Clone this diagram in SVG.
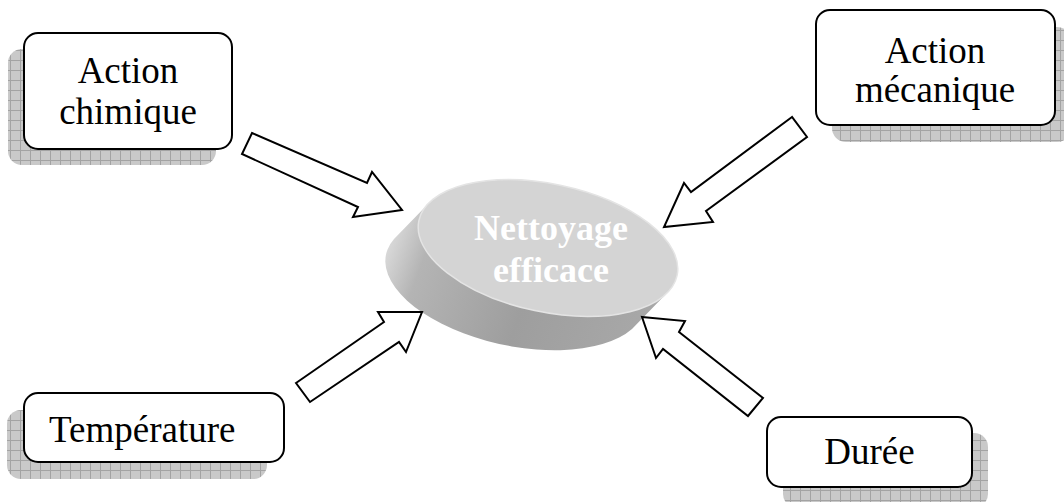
<svg xmlns="http://www.w3.org/2000/svg" width="1064" height="502" viewBox="0 0 1064 502">
<style>
.box{fill:#ffffff;stroke:#000000;stroke-width:2}
.shadow{fill:url(#hatch)}
.lbl{font-family:"Liberation Serif","Times New Roman",serif;font-size:37px;fill:#000000}
.ctr{font-family:"Liberation Serif","Times New Roman",serif;font-size:36px;font-weight:bold;fill:#ffffff;text-anchor:middle}
.arrow{fill:#ffffff;stroke:#000000;stroke-width:2;stroke-linejoin:miter}
</style>
<defs>
<pattern id="hatch" width="10" height="10" patternUnits="userSpaceOnUse">
<rect width="10" height="10" fill="#c9c9c9"/>
<path d="M0 0.5H10M0.5 0V10" stroke="#a3a3a3" stroke-width="1"/>
</pattern>
<linearGradient id="body" gradientUnits="userSpaceOnUse" x1="383" y1="250" x2="640" y2="345">
<stop offset="0" stop-color="#dcdcdc"/>
<stop offset="0.15" stop-color="#b4b4b4"/>
<stop offset="0.55" stop-color="#9e9e9e"/>
<stop offset="1" stop-color="#a8a8a8"/>
</linearGradient>
</defs>
<rect width="1064" height="502" fill="#ffffff"/>

<g id="node-centre">
<path fill="url(#body)" d="M429 203 L394 239 A132 64 12 0 0 632 329 L667 293 A132 64 12 0 0 429 203 Z"/>
<ellipse cx="548" cy="248" rx="132" ry="64" transform="rotate(12 548 248)" fill="#d4d4d4" stroke="#e4e4e4" stroke-width="1.5"/>
<text class="ctr" x="551" y="240">Nettoyage</text>
<text class="ctr" x="551" y="282">efficace</text>
</g>

<g id="node-action-chimique">
<rect class="shadow" x="8" y="49" width="208" height="116" rx="14"/>
<rect class="box" x="24" y="33" width="208" height="116" rx="14"/>
<text class="lbl" x="128" y="83" text-anchor="middle">Action</text>
<text class="lbl" x="128" y="124" text-anchor="middle">chimique</text>
</g>

<g id="node-action-mecanique">
<rect class="shadow" x="832" y="27" width="239" height="115" rx="14"/>
<rect class="box" x="816" y="10" width="239" height="115" rx="14"/>
<text class="lbl" x="935" y="63" text-anchor="middle">Action</text>
<text class="lbl" x="935" y="102" text-anchor="middle">mécanique</text>
</g>

<g id="node-temperature">
<rect class="shadow" x="7" y="410" width="260" height="69" rx="14"/>
<rect class="box" x="24" y="393" width="260" height="69" rx="14"/>
<text class="lbl" x="49" y="442">Température</text>
</g>

<g id="node-duree">
<rect class="shadow" x="783" y="433" width="205" height="75" rx="14"/>
<rect class="box" x="767" y="417" width="205" height="70" rx="14"/>
<text class="lbl" x="869.5" y="464" text-anchor="middle">Durée</text>
</g>

<g id="connectors">
<polygon class="arrow" points="252,133 367,183 372,172 402,210 353,217 358,207 242,154"/>
<polygon class="arrow" points="792,117 691,192 684,183 664,227 713,222 706,211 807,137"/>
<polygon class="arrow" points="296,383 384,322 378,312 422,312 406,352 399,342 310,402"/>
<polygon class="arrow" points="642,317 685,321 679,332 763,398 748,416 663,349 656,358"/>
</g>
</svg>
